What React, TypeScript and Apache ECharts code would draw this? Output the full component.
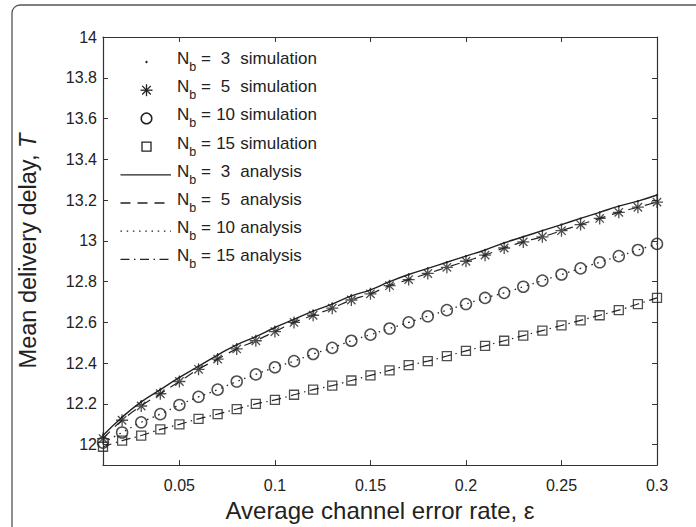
import { useEffect, useRef } from 'react';
import * as echarts from 'echarts';

// ---- data ----
const errorRates = [
  0.01, 0.02, 0.03, 0.04, 0.05, 0.06, 0.07, 0.08, 0.09, 0.1,
  0.11, 0.12, 0.13, 0.14, 0.15, 0.16, 0.17, 0.18, 0.19, 0.2,
  0.21, 0.22, 0.23, 0.24, 0.25, 0.26, 0.27, 0.28, 0.29, 0.3,
];
const delayNb3 = [
  12.045, 12.135, 12.21, 12.27, 12.33, 12.385, 12.44, 12.49, 12.53, 12.575,
  12.615, 12.655, 12.69, 12.73, 12.76, 12.8, 12.835, 12.865, 12.895, 12.925,
  12.955, 12.99, 13.02, 13.05, 13.08, 13.11, 13.14, 13.17, 13.195, 13.225,
];
const delayNb5 = [
  12.03, 12.12, 12.19, 12.25, 12.31, 12.37, 12.42, 12.47, 12.51, 12.555,
  12.6, 12.635, 12.67, 12.71, 12.74, 12.78, 12.81, 12.84, 12.87, 12.9,
  12.93, 12.965, 12.995, 13.02, 13.05, 13.08, 13.11, 13.14, 13.165, 13.19,
];
const delayNb10 = [
  12.01, 12.06, 12.11, 12.15, 12.195, 12.235, 12.27, 12.31, 12.345, 12.38,
  12.41, 12.445, 12.475, 12.51, 12.54, 12.57, 12.6, 12.63, 12.66, 12.69,
  12.72, 12.745, 12.775, 12.805, 12.835, 12.865, 12.895, 12.925, 12.955, 12.985,
];
const delayNb15 = [
  11.99, 12.02, 12.045, 12.075, 12.1, 12.127, 12.15, 12.175, 12.2, 12.22,
  12.245, 12.27, 12.29, 12.315, 12.34, 12.365, 12.39, 12.41, 12.435, 12.46,
  12.485, 12.51, 12.535, 12.56, 12.585, 12.61, 12.635, 12.66, 12.69, 12.72,
];
const xTicks = [0.05, 0.1, 0.15, 0.2, 0.25, 0.3];
const yTicks = [12, 12.2, 12.4, 12.6, 12.8, 13, 13.2, 13.4, 13.6, 13.8, 14];
const bufferSizes = ['3', '5', '10', '15'];
const xTitle = 'Average channel error rate, \u03b5';
const yTitle = 'Mean delivery delay, ';

const FONT = '"Liberation Sans", Arial, Helvetica, sans-serif';
const INK = '#222';
const AXIS = '#333';

const toPairs = (ys: number[]) => errorRates.map((x, i) => [x, ys[i]]);

const STAR_PATH = 'path://M10,0L10,20M0,10L20,10M3,3L17,17M3,17L17,3';

const dashes: Record<string, number[] | 'solid'> = {
  '3': 'solid',
  '5': [10, 7],
  '10': [1.5, 4.7],
  '15': [9, 4.5, 1.5, 4.5],
};

function buildLegend(): any[] {
  const els: any[] = [];
  const textX = 177;
  const iconCx = 146.5;
  const rowY0 = 58.5;
  const rowGap = 28.2;
  const rich = {
    n: { fontSize: 17, fontFamily: FONT, fill: INK, lineHeight: 30, verticalAlign: 'middle' },
    b: { fontSize: 12.5, fontFamily: FONT, fill: INK, lineHeight: 14, verticalAlign: 'bottom' },
    num: { fontSize: 17, fontFamily: FONT, fill: INK, lineHeight: 30, width: 20, align: 'center', verticalAlign: 'middle' },
  };
  const kinds = ['simulation', 'analysis'];
  kinds.forEach((kind, k) => {
    bufferSizes.forEach((nb, j) => {
      const row = k * 4 + j;
      const cy = rowY0 + row * rowGap;
      const iy = cy + 3.5;
      els.push({
        type: 'text',
        x: textX,
        y: cy,
        silent: true,
        style: {
          text: `{n|N}{b|b}{n| = }{num|${nb}}{n| ${kind}}`,
          rich,
          verticalAlign: 'middle',
          align: 'left',
        },
      });
      if (kind === 'analysis') {
        const d = dashes[nb];
        els.push({
          type: 'line',
          silent: true,
          shape: { x1: 120.5, y1: iy, x2: 171, y2: iy },
          style: { stroke: INK, lineWidth: 1.3, lineDash: d === 'solid' ? null : d },
        });
      } else if (nb === '3') {
        els.push({ type: 'circle', silent: true, shape: { cx: iconCx, cy: iy, r: 1.2 }, style: { fill: INK } });
      } else if (nb === '5') {
        const r = 6;
        const rd = 4.3;
        const segs = [
          [iconCx, iy - r, iconCx, iy + r],
          [iconCx - r, iy, iconCx + r, iy],
          [iconCx - rd, iy - rd, iconCx + rd, iy + rd],
          [iconCx - rd, iy + rd, iconCx + rd, iy - rd],
        ];
        segs.forEach((s) =>
          els.push({
            type: 'line',
            silent: true,
            shape: { x1: s[0], y1: s[1], x2: s[2], y2: s[3] },
            style: { stroke: INK, lineWidth: 1.3 },
          })
        );
      } else if (nb === '10') {
        els.push({
          type: 'circle',
          silent: true,
          shape: { cx: iconCx, cy: iy, r: 5.3 },
          style: { fill: 'none', stroke: INK, lineWidth: 1.5 },
        });
      } else {
        els.push({
          type: 'rect',
          silent: true,
          shape: { x: iconCx - 4.5, y: iy - 4.5, width: 9, height: 9 },
          style: { fill: 'none', stroke: INK, lineWidth: 1.3 },
        });
      }
    });
  });
  return els;
}

export default function App() {
  const ref = useRef<HTMLDivElement>(null);
  useEffect(() => {
    if (!ref.current) return;
    const chart = echarts.init(ref.current, null, { renderer: 'svg' });

    const tickStyle = { show: true, inside: true, length: 5, lineStyle: { color: AXIS, width: 1 } };
    const lineStyle = { show: true, onZero: false, lineStyle: { color: AXIS, width: 1.2 } };

    const option: any = {
      animation: false,
      backgroundColor: '#fff',
      grid: { left: 103, right: 39, top: 37, bottom: 57, containLabel: false },
      xAxis: [
        {
          type: 'value',
          min: 0.01,
          max: 0.3,
          position: 'bottom',
          axisLine: lineStyle,
          axisTick: { ...tickStyle, customValues: xTicks },
          axisLabel: {
            customValues: xTicks,
            margin: 12,
            fontSize: 16,
            fontFamily: FONT,
            color: INK,
          },
          splitLine: { show: false },
          name: xTitle,
          nameLocation: 'middle',
          nameGap: 30,
          nameTextStyle: { fontSize: 24, fontFamily: FONT, color: INK },
        },
        {
          type: 'value',
          min: 0.01,
          max: 0.3,
          position: 'top',
          axisLine: lineStyle,
          axisTick: { ...tickStyle, customValues: xTicks },
          axisLabel: { show: false },
          splitLine: { show: false },
        },
      ],
      yAxis: [
        {
          type: 'value',
          min: 11.9,
          max: 14,
          position: 'left',
          axisLine: lineStyle,
          axisTick: { ...tickStyle, customValues: yTicks },
          axisLabel: {
            customValues: yTicks,
            margin: 6,
            fontSize: 16,
            fontFamily: FONT,
            color: INK,
          },
          splitLine: { show: false },
          name: `{a|${yTitle}}{i|T}`,
          nameLocation: 'middle',
          nameGap: 63,
          nameTextStyle: {
            fontSize: 23.5,
            fontFamily: FONT,
            color: INK,
            rich: {
              a: { fontSize: 23.5, fontFamily: FONT, color: INK },
              i: { fontSize: 23.5, fontFamily: FONT, color: INK, fontStyle: 'italic' },
            },
          },
        },
        {
          type: 'value',
          min: 11.9,
          max: 14,
          position: 'right',
          axisLine: lineStyle,
          axisTick: { ...tickStyle, customValues: yTicks },
          axisLabel: { show: false },
          splitLine: { show: false },
        },
      ],
      series: [
        {
          name: 'Nb = 3 analysis',
          type: 'line',
          data: toPairs(delayNb3),
          showSymbol: false,
          symbol: 'none',
          smooth: true,
          lineStyle: { color: INK, width: 1.4, type: 'solid' },
          z: 2,
        },
        {
          name: 'Nb = 5 analysis',
          type: 'line',
          data: toPairs(delayNb5),
          symbol: 'none',
          smooth: true,
          lineStyle: { color: INK, width: 1.2, type: dashes['5'] },
          z: 2,
        },
        {
          name: 'Nb = 10 analysis',
          type: 'line',
          data: toPairs(delayNb10),
          symbol: 'none',
          smooth: true,
          lineStyle: { color: INK, width: 1.3, type: dashes['10'] },
          z: 2,
        },
        {
          name: 'Nb = 15 analysis',
          type: 'line',
          data: toPairs(delayNb15),
          symbol: 'none',
          smooth: true,
          lineStyle: { color: INK, width: 1.2, type: dashes['15'] },
          z: 2,
        },
        {
          name: 'Nb = 3 simulation',
          type: 'scatter',
          data: toPairs(delayNb3),
          symbol: 'circle',
          symbolSize: 2.4,
          itemStyle: { color: INK },
          z: 3,
        },
        {
          name: 'Nb = 5 simulation',
          type: 'scatter',
          data: toPairs(delayNb5),
          symbol: STAR_PATH,
          symbolSize: 12,
          itemStyle: { color: 'none', borderColor: INK, borderWidth: 1.3 },
          z: 3,
        },
        {
          name: 'Nb = 10 simulation',
          type: 'scatter',
          data: toPairs(delayNb10),
          symbol: 'circle',
          symbolSize: 11,
          itemStyle: { color: 'rgba(0,0,0,0)', borderColor: INK, borderWidth: 1.5 },
          z: 3,
        },
        {
          name: 'Nb = 15 simulation',
          type: 'scatter',
          data: toPairs(delayNb15),
          symbol: 'rect',
          symbolSize: 9,
          itemStyle: { color: 'rgba(0,0,0,0)', borderColor: INK, borderWidth: 1.3 },
          z: 3,
        },
      ],
      graphic: [
        {
          type: 'rect',
          silent: true,
          z: 0,
          shape: { x: 12, y: 5, width: 700, height: 540, r: 8 },
          style: { fill: 'none', stroke: '#555', lineWidth: 1.3 },
        },
        ...buildLegend(),
      ],
    };
    chart.setOption(option);
    return () => chart.dispose();
  }, []);
  return (
    <div
      ref={ref}
      style={{ position: 'fixed', left: 0, top: 0, width: 696, height: 527, background: '#fff' }}
    />
  );
}
